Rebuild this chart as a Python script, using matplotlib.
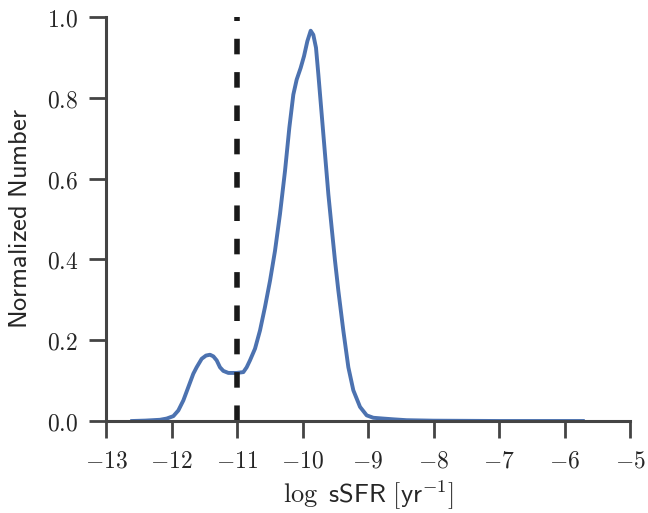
import matplotlib
matplotlib.use("Agg")
import matplotlib.pyplot as plt
from matplotlib.ticker import FuncFormatter

# KDE curve
log_ssfr = [-12.60, -12.40, -12.176, -12.074, -11.972, -11.896, -11.819,
            -11.743, -11.667, -11.616, -11.539, -11.473, -11.412, -11.361,
            -11.310, -11.260, -11.209, -11.132, -11.005, -10.903, -10.852,
            -10.802, -10.725, -10.649, -10.573, -10.496, -10.420, -10.344,
            -10.267, -10.201, -10.140, -10.089, -10.028, -9.977, -9.926,
            -9.875, -9.835, -9.794, -9.758, -9.707, -9.656, -9.605, -9.555,
            -9.504, -9.453, -9.377, -9.300, -9.224, -9.122, -9.020, -8.919,
            -8.766, -8.60, -8.41, -8.00, -7.00, -6.00, -5.72]
norm_number = [0.0, 0.001, 0.003, 0.006, 0.012, 0.026, 0.051,
               0.084, 0.117, 0.133, 0.154, 0.162, 0.164, 0.160,
               0.150, 0.133, 0.124, 0.119, 0.119, 0.121, 0.133,
               0.150, 0.179, 0.224, 0.282, 0.347, 0.421, 0.512,
               0.619, 0.726, 0.808, 0.845, 0.874, 0.903, 0.940,
               0.966, 0.956, 0.924, 0.858, 0.759, 0.660, 0.561, 0.479,
               0.397, 0.323, 0.224, 0.133, 0.076, 0.035, 0.014, 0.008,
               0.006, 0.004, 0.002, 0.0008, 0.0, 0.0, 0.0]
cut = -11.0

x_ticks = [-13, -12, -11, -10, -9, -8, -7, -6, -5]
y_ticks = [0.0, 0.2, 0.4, 0.6, 0.8, 1.0]

plt.rcParams["mathtext.fontset"] = "cm"
spine_col = "#444444"

fig = plt.figure(figsize=(6.48, 5.13), dpi=100)
ax = fig.add_axes([106 / 648, 1 - 421 / 513, 524 / 648, 404 / 513])

ax.plot(log_ssfr, norm_number, color="#4C72B0", lw=2.8)
ax.axvline(cut, color="#1a1a1a", lw=4, linestyle=(0, (2.8, 3.2)))

ax.set_xlim(-13, -5)
ax.set_ylim(0, 1)
ax.set_xticks(x_ticks)
ax.set_yticks(y_ticks)
ax.xaxis.set_major_formatter(FuncFormatter(lambda v, p: r"$%d$" % v))
ax.yaxis.set_major_formatter(FuncFormatter(lambda v, p: r"$%.1f$" % v))

for side in ["top", "right"]:
    ax.spines[side].set_visible(False)
for side in ["left", "bottom"]:
    ax.spines[side].set_color(spine_col)
    ax.spines[side].set_linewidth(2.2)
ax.tick_params(length=12, width=2.0, color=spine_col, labelsize=17,
               labelcolor="#262626", pad=8)

ax.set_xlabel(r"$\log\ \mathsf{sSFR\ [yr}^{-1}\mathsf{]}$", fontsize=19,
              color="#262626", labelpad=4)
ax.set_ylabel(r"$\mathsf{Normalized\ Number}$", fontsize=19,
              color="#262626", labelpad=10)

fig.savefig("out.png", dpi=100)
